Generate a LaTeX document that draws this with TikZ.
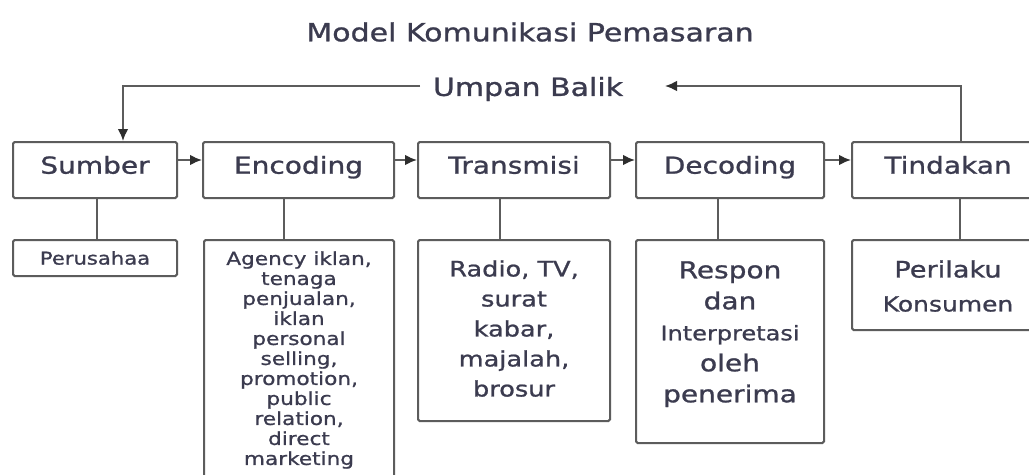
\documentclass[tikz,border=0pt]{standalone}
\usepackage{fontspec}
\setmainfont{DejaVu Sans}[FakeStretch=1.2,FakeBold=1]
\usetikzlibrary{arrows.meta}
\definecolor{ink}{HTML}{3B3B4F}
\definecolor{edge}{HTML}{5C5C5C}
\definecolor{tip}{HTML}{2E2E2E}
\newcommand{\myfs}[2]{\fontsize{#1}{#2}\selectfont}
\tikzset{
  conn/.style={draw=edge, line width=1.5pt},
  arr/.style={-{Latex[length=9pt,width=8pt,color=tip]}},
  topbox/.style={draw=edge, line width=1.5pt, rounded corners=1.2pt, minimum height=42pt,
     inner sep=0pt, text height=13pt, text depth=7.5pt, text=ink, font=\myfs{17.5}{21}},
  subbox/.style={draw=edge, line width=1.5pt, rounded corners=1.2pt, anchor=north, inner sep=0pt},
  subtext/.style={anchor=north, inner sep=0pt, align=center, text=ink},
  lab/.style={text=ink, inner sep=0pt}
}
\begin{document}
\begin{tikzpicture}[x=0.75pt,y=-0.75pt]
\useasboundingbox (0,0) rectangle (1029,475);
\fill[white] (0,0) rectangle (1029,475);

% title
\node[lab, font=\myfs{18.75}{22}] (title) at (530,32) {Model Komunikasi Pemasaran};

% top row
\node[topbox, minimum width=123pt] (sumber) at (95,170) {Sumber};
\node[topbox, minimum width=143.25pt] (enc) at (298.5,170) {Encoding};
\node[topbox, minimum width=144pt] (trans) at (514,170) {Transmisi};
\node[topbox, minimum width=141pt] (dec) at (730,170) {Decoding};
\node[topbox, minimum width=144pt] (tind) at (948,170) {Tindakan};

% arrows between boxes
\draw[conn,arr] (sumber.east |- 0,160) -- (enc.west |- 0,160);
\draw[conn,arr] (enc.east |- 0,160) -- (trans.west |- 0,160);
\draw[conn,arr] (trans.east |- 0,160) -- (dec.west |- 0,160);
\draw[conn,arr] (dec.east |- 0,160) -- (tind.west |- 0,160);

% feedback
\node[lab, font=\myfs{18.75}{22}] (ub) at (528,89) {Umpan Balik};
\coordinate (fbTop) at (961,86);
\coordinate (fbTip) at (665,86);
\coordinate (fbL) at (420,86);
\coordinate (fbC) at (123,86);
\draw[conn,arr] (tind.north -| fbTop) -- (fbTop) -- (fbTip);
\draw[conn,arr] (fbL) -- (fbC) -- (sumber.north -| fbC);

% sub boxes
\node[subbox, minimum width=123pt, minimum height=27pt, text=ink, font=\myfs{13.2}{16}] (sub1) at (95,239) {Perusahaa};
\node[subbox, minimum width=142.5pt, minimum height=188.25pt] (sub2) at (299,239) {};
\node[subbox, minimum width=144pt, minimum height=135.75pt] (sub3) at (514,239) {};
\node[subbox, minimum width=141pt, minimum height=152.25pt] (sub4) at (730,239) {};
\node[subbox, minimum width=144pt, minimum height=67.5pt] (sub5) at (948,239) {};

\node[subtext, font=\myfs{13.5}{15}] (sub2t) at (299,251) {Agency iklan,\\tenaga\\penjualan,\\iklan\\personal\\selling,\\promotion,\\public\\relation,\\direct\\marketing};
\node[subtext, font=\myfs{16}{22.5}] (sub3t) at (514,260) {Radio, TV,\\surat\\kabar,\\majalah,\\brosur};
\node[subtext, font=\myfs{17.5}{23.25}] (sub4t) at (730,261) {Respon\\dan\\{\myfs{15}{23.25}Interpretasi}\\oleh\\penerima};
\node[subtext, font=\myfs{17}{25.5}] (sub5t) at (948,260) {Perilaku\\{\myfs{15.6}{25.5}Konsumen}};

% vertical connectors
\draw[conn] (sumber.south -| 97,0) -- (sub1.north -| 97,0);
\draw[conn] (enc.south -| 284,0) -- (sub2.north -| 284,0);
\draw[conn] (trans.south -| 500,0) -- (sub3.north -| 500,0);
\draw[conn] (dec.south -| 718,0) -- (sub4.north -| 718,0);
\draw[conn] (tind.south -| 960,0) -- (sub5.north -| 960,0);
\end{tikzpicture}
\end{document}
